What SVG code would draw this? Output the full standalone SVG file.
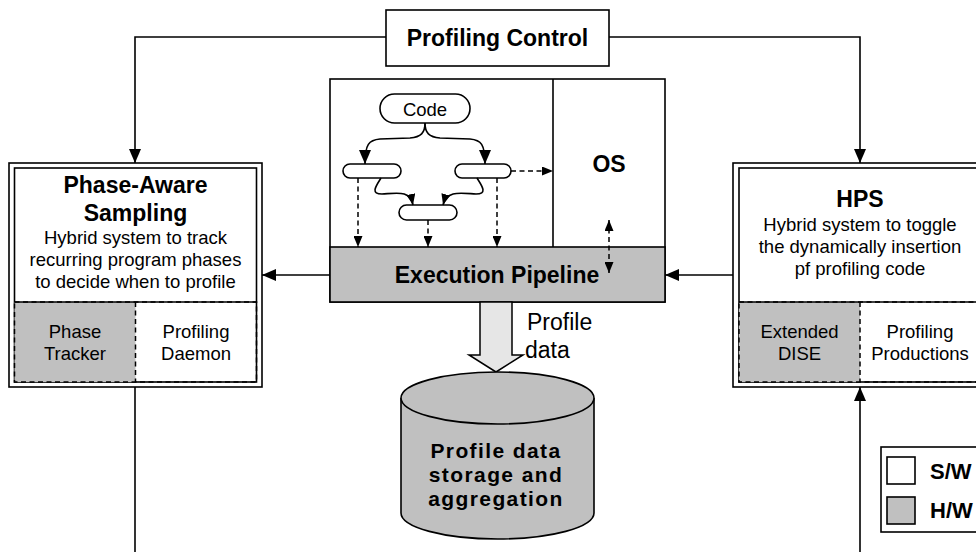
<svg xmlns="http://www.w3.org/2000/svg" width="976" height="552" viewBox="0 0 976 552">
<defs>
<style>
text{font-family:"Liberation Sans",Arial,sans-serif;fill:#000;text-anchor:middle}
.t{font-size:23px;font-weight:bold}
.c{font-size:21px;font-weight:bold;letter-spacing:1.4px}
.b{font-size:18.5px}
.l{font-size:23px}
.lg{font-size:22px;font-weight:bold;text-anchor:start}
.box{fill:#fff;stroke:#000;stroke-width:1.6}
.hw{fill:#c0c0c0}
.ln{fill:none;stroke:#000;stroke-width:1.6}
.ds{fill:none;stroke:#000;stroke-width:1.5;stroke-dasharray:5,3.5}
.pill{fill:#fff;stroke:#000;stroke-width:1.6}
</style>
<marker id="arr" viewBox="0 0 14 12" refX="14" refY="6" markerWidth="14" markerHeight="12" markerUnits="userSpaceOnUse" orient="auto-start-reverse"><path d="M0,0 L14,6 L0,12 Z" fill="#000"/></marker>
<marker id="arrs" viewBox="0 0 11 9" refX="11" refY="4.5" markerWidth="11" markerHeight="9" markerUnits="userSpaceOnUse" orient="auto-start-reverse"><path d="M0,0 L11,4.5 L0,9 Z" fill="#000"/></marker>
</defs>

<g id="profiling-control">
<rect class="box" x="386" y="10" width="223" height="56"/>
<text class="t" x="497.5" y="46">Profiling Control</text>
</g>

<g id="core">
<rect class="box" x="330" y="79" width="335" height="223"/>
<line class="ln" x1="553" y1="79" x2="553" y2="247"/>
<text class="t" x="609" y="172">OS</text>
</g>

<g id="execution-pipeline">
<rect class="box hw" x="330" y="247" width="335" height="55"/>
<text class="t" x="497" y="283">Execution Pipeline</text>
</g>

<g id="code">
<rect class="pill" x="380" y="94" width="90" height="29" rx="14.5"/>
<text class="b" x="425" y="116">Code</text>
</g>
<g id="block-left"><rect class="pill" x="343" y="164" width="58" height="14" rx="7"/></g>
<g id="block-right"><rect class="pill" x="455" y="164" width="56" height="14" rx="7"/></g>
<g id="block-bottom"><rect class="pill" x="399" y="205" width="58" height="15" rx="7.5"/></g>

<g id="phase-aware-sampling">
<rect class="box" x="9" y="163" width="253" height="224"/>
<rect class="box" x="14.5" y="168" width="242" height="214"/>
<rect class="hw" x="14.5" y="302" width="121" height="80"/>
<rect class="ds" x="14.5" y="302" width="242" height="80"/>
<line class="ds" x1="135.5" y1="302" x2="135.5" y2="382"/>
<line class="ln" x1="14.5" y1="302" x2="256.5" y2="302"/>
<text class="t" x="135.5" y="193">Phase-Aware</text>
<text class="t" x="135.5" y="221">Sampling</text>
<text class="b" x="135.5" y="244">Hybrid system to track</text>
<text class="b" x="135.5" y="266">recurring program phases</text>
<text class="b" x="135.5" y="288">to decide when to profile</text>
<text class="b" x="75" y="338">Phase</text>
<text class="b" x="75" y="360">Tracker</text>
<text class="b" x="196" y="338">Profiling</text>
<text class="b" x="196" y="360">Daemon</text>
</g>

<g id="hps">
<rect class="box" x="733" y="163" width="253" height="224"/>
<rect class="box" x="739" y="168" width="242" height="214"/>
<rect class="hw" x="739" y="302" width="121" height="80"/>
<rect class="ds" x="739" y="302" width="242" height="80"/>
<line class="ds" x1="860" y1="302" x2="860" y2="382"/>
<line class="ln" x1="739" y1="302" x2="981" y2="302"/>
<text class="t" x="860" y="207">HPS</text>
<text class="b" x="860" y="231">Hybrid system to toggle</text>
<text class="b" x="860" y="253">the dynamically insertion</text>
<text class="b" x="860" y="275">pf profiling code</text>
<text class="b" x="799.5" y="338">Extended</text>
<text class="b" x="799.5" y="360">DISE</text>
<text class="b" x="920" y="338">Profiling</text>
<text class="b" x="920" y="360">Productions</text>
</g>

<g id="profile-data-arrow">
<path d="M480,302 L512,302 L512,355 L523,355 L496,372 L469,355 L480,355 Z" fill="#e6e6e6" stroke="#000" stroke-width="1.5"/>
<text class="l" x="527" y="330" style="text-anchor:start">Profile</text>
<text class="l" x="525" y="358" style="text-anchor:start">data</text>
</g>

<g id="storage">
<path d="M401,398 L401,513 A96.5,26 0 0 0 594,513 L594,398" class="box hw"/>
<ellipse class="box hw" cx="497.5" cy="398" rx="96.5" ry="26"/>
<text class="c" x="496" y="458">Profile data</text>
<text class="c" x="496" y="482">storage and</text>
<text class="c" x="496" y="506">aggregation</text>
</g>

<g id="legend">
<rect class="box" x="881" y="447" width="110" height="85"/>
<rect class="box" x="887" y="457" width="28" height="27"/>
<rect class="box hw" x="887" y="497" width="28" height="27"/>
<text class="lg" x="930" y="479">S/W</text>
<text class="lg" x="930" y="518">H/W</text>
</g>

<g id="connectors">
<polyline class="ln" points="386,37 135,37 135,163" marker-end="url(#arr)"/>
<polyline class="ln" points="609,37 860,37 860,163" marker-end="url(#arr)"/>
<line class="ln" x1="330" y1="275" x2="262" y2="275" marker-end="url(#arr)"/>
<line class="ln" x1="733" y1="275" x2="665" y2="275" marker-end="url(#arr)"/>
<line class="ln" x1="135" y1="387" x2="135" y2="552"/>
<line class="ln" x1="860" y1="552" x2="860" y2="387" marker-end="url(#arr)"/>
<path class="ln" d="M425,123 C425,133 421,137 410,138 L380,139 C369,140 365,144 365,164" marker-end="url(#arr)"/>
<path class="ln" d="M425,123 C425,133 429,137 440,138 L470,139 C481,140 485,144 485,164" marker-end="url(#arr)"/>
<path class="ln" d="M381,178 C376,186 370,194 382,194 C398,193 410,190 413,205" marker-end="url(#arrs)"/>
<path class="ln" d="M477,178 C482,186 488,194 476,194 C460,193 447,190 443,205" marker-end="url(#arrs)"/>
<line class="ds" x1="358" y1="178" x2="358" y2="247" marker-end="url(#arrs)"/>
<line class="ds" x1="428" y1="220" x2="428" y2="247" marker-end="url(#arrs)"/>
<line class="ds" x1="497" y1="178" x2="497" y2="247" marker-end="url(#arrs)"/>
<line class="ds" x1="511" y1="171" x2="553" y2="171" marker-end="url(#arrs)"/>
<line class="ds" x1="609" y1="220" x2="609" y2="273" marker-start="url(#arrs)" marker-end="url(#arrs)"/>
</g>
</svg>
